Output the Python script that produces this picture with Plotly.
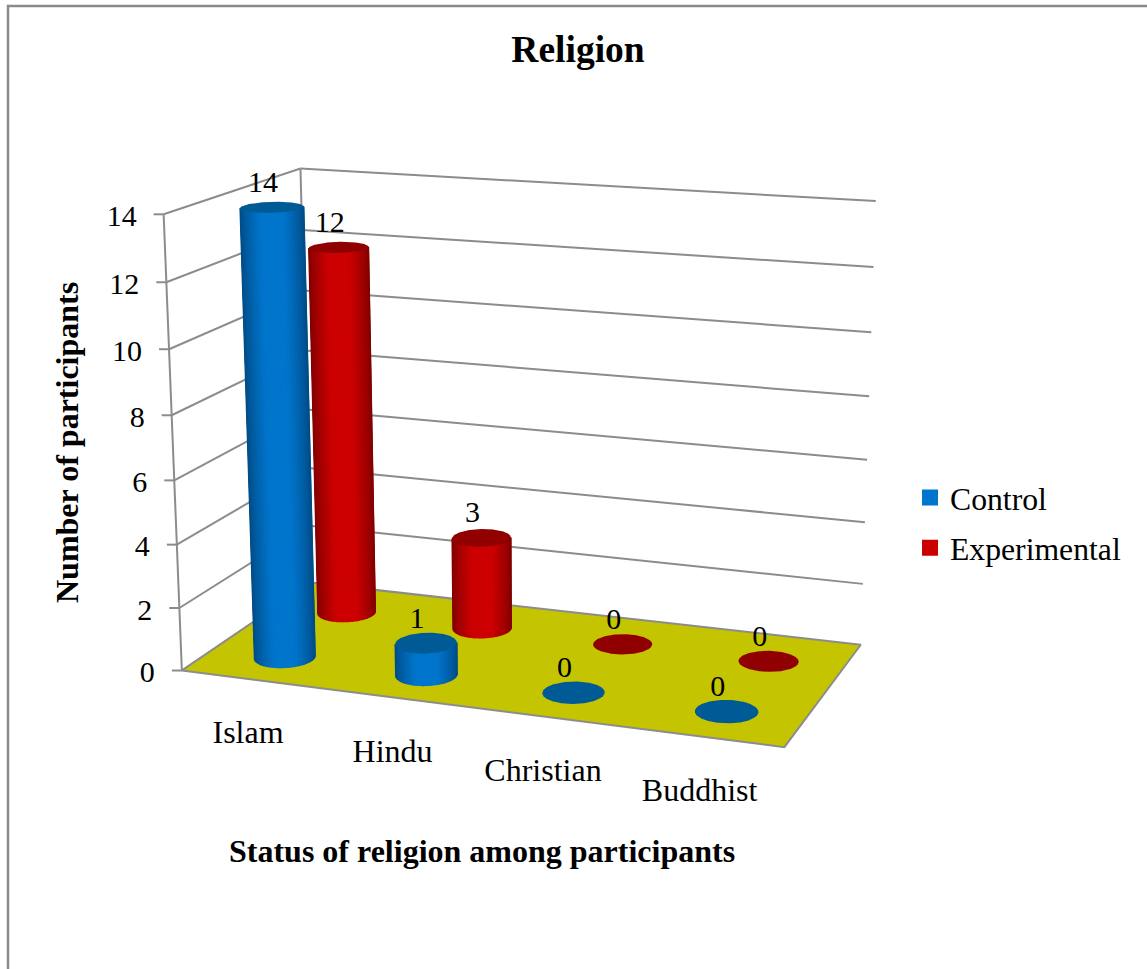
import numpy as np
import plotly.graph_objects as go

# Chart content
categories = ["Islam", "Hindu", "Christian", "Buddhist"]
control = [14, 1, 0, 0]
experimental = [12, 3, 0, 0]
value_ticks = [0, 2, 4, 6, 8, 10, 12, 14]

FONT = "Liberation Serif"
W, H = 1147, 969
YMAX = 14
GRID = "#8c8c8c"
FLOOR = "#c4c400"
STYLE = {
    "Control": dict(bright=(0, 117, 204), dark=(0, 76, 134), cap="#005a96", depth=0.235),
    "Experimental": dict(bright=(204, 0, 0), dark=(130, 0, 0), cap="#900000", depth=0.735),
}
RX, RY = 0.195, 0.105
SLOT = 0.51

# Pinhole camera of the 3-D box, solved from where its corners fall on the page.
# World coordinates: (category position 0..4, depth 0..1, value 0..14).
world = [(0, 0, 0), (4, 0, 0), (4, 1, 0), (0, 1, 0), (0, 0, 14), (0, 1, 14), (4, 1, 14)]
page = [(180, 670), (785, 747), (860, 645), (313, 583), (165, 215), (299, 168), (876, 201)]
rows = []
for (a, b, c), (u, v) in zip(world, page):
    rows.append([a, b, c, 1, 0, 0, 0, 0, -u * a, -u * b, -u * c, -u])
    rows.append([0, 0, 0, 0, a, b, c, 1, -v * a, -v * b, -v * c, -v])
CAM = np.linalg.svd(np.array(rows, float))[2][-1].reshape(3, 4)


def project(x, y, z):
    x, y, z = np.broadcast_arrays(np.asarray(x, float), np.asarray(y, float), np.asarray(z, float))
    q = CAM @ np.vstack([x.ravel(), y.ravel(), z.ravel(), np.ones(x.size)])
    return q[0] / q[2], q[1] / q[2]


fig = go.Figure()


def polygon(px, py, color, seam=0.0):
    fig.add_trace(go.Scatter(
        x=list(px), y=list(py), mode="lines", fill="toself", fillcolor=color,
        line=dict(color=color, width=seam), showlegend=False, hoverinfo="skip",
    ))


def segments(pairs, width=2):
    xs, ys = [], []
    for (a, b) in pairs:
        px, py = project([a[0], b[0]], [a[1], b[1]], [a[2], b[2]])
        xs += [px[0], px[1], None]
        ys += [py[0], py[1], None]
    fig.add_trace(go.Scatter(x=xs, y=ys, mode="lines", line=dict(color=GRID, width=width),
                             showlegend=False, hoverinfo="skip"))


def mix(a, b, k):
    return "rgb(%d,%d,%d)" % tuple(round(p + (q - p) * k) for p, q in zip(a, b))


def cylinder(xc, depth, value, st):
    th = np.linspace(0, 2 * np.pi, 361)
    bx, by = project(xc + RX * np.cos(th), depth + RY * np.sin(th), 0)
    if value > 0:
        tx, ty = project(xc + RX * np.cos(th), depth + RY * np.sin(th), value)
        # The visible side runs between the screen tangents of the base ellipse
        start, stop = th[np.argmin(bx)], th[np.argmax(bx)]
        if stop < start:
            stop += 2 * np.pi
        front = np.linspace(start, stop, 29)
        sx, sy = project(xc + RX * np.cos(front), depth + RY * np.sin(front), 0)
        ux, uy = project(xc + RX * np.cos(front), depth + RY * np.sin(front), value)
        polygon(np.r_[sx, ux[::-1]], np.r_[sy, uy[::-1]], mix(st["dark"], st["dark"], 0))
        centre, half = 0.5 * (sx[0] + sx[-1]), 0.5 * (sx[-1] - sx[0])
        for i in range(len(front) - 1):
            offset = abs(0.5 * (sx[i] + sx[i + 1]) - centre) / half
            k = min(1.0, (1 - offset) / 0.65) ** 0.8
            polygon([sx[i], sx[i + 1], ux[i + 1], ux[i]], [sy[i], sy[i + 1], uy[i + 1], uy[i]],
                    mix(st["dark"], st["bright"], k), seam=1.5)
        polygon(tx, ty, st["cap"])
        return tx.mean(), ty.mean()
    polygon(bx, by, st["cap"])
    return bx.mean(), by.mean()


# Walls: gridlines across the back and left side, ticks on the front edge
tick_len = 10
back = [((0, 1, v), (4, 1, v)) for v in value_ticks if v > 0]
side = [((0, 0, v), (0, 1, v)) for v in value_ticks]
segments(back + side + [((0, 0, 0), (0, 0, YMAX)), ((0, 1, 0), (0, 1, YMAX))])
tx0, ty0 = project(np.zeros(len(value_ticks)), np.zeros(len(value_ticks)), value_ticks)
xs, ys = [], []
for a, b in zip(tx0, ty0):
    xs += [a - tick_len, a, None]
    ys += [b, b, None]
fig.add_trace(go.Scatter(x=xs, y=ys, mode="lines", line=dict(color=GRID, width=2),
                         showlegend=False, hoverinfo="skip"))

# Floor
fx, fy = project([0, 4, 4, 0, 0], [0, 0, 1, 1, 0], [0, 0, 0, 0, 0])
fig.add_trace(go.Scatter(x=fx, y=fy, mode="lines", fill="toself", fillcolor=FLOOR,
                         line=dict(color=GRID, width=2), showlegend=False, hoverinfo="skip"))

# Cylinders, far row first, each row painted left to right
label_x, label_y, label_t = [], [], []
for name, vals in (("Experimental", experimental), ("Control", control)):
    for i, v in enumerate(vals):
        cx, cy = cylinder(i + SLOT, STYLE[name]["depth"], v, STYLE[name])
        label_x.append(cx - 9)
        label_y.append(cy - 23)
        label_t.append(str(v))

fig.add_trace(go.Scatter(x=label_x, y=label_y, text=label_t, mode="text", textposition="middle center",
                         textfont=dict(family=FONT, size=30, color="black"),
                         showlegend=False, hoverinfo="skip"))

# Value axis labels
fig.add_trace(go.Scatter(x=tx0 - tick_len - 17, y=ty0 + 4, text=[str(v) for v in value_ticks], mode="text",
                         textposition="middle left", textfont=dict(family=FONT, size=30, color="black"),
                         showlegend=False, hoverinfo="skip"))

# Category labels, dropped below the front edge
cx0, cy0 = project(np.arange(4) + 0.5, np.zeros(4), np.zeros(4))
fig.add_trace(go.Scatter(x=cx0 - 4, y=cy0 + 56, text=categories, mode="text", textposition="middle center",
                         textfont=dict(family=FONT, size=32, color="black"),
                         showlegend=False, hoverinfo="skip"))

# Legend entries
for idx, name in enumerate(("Control", "Experimental")):
    fig.add_trace(go.Scatter(x=[None], y=[None], mode="markers", name=name, legendgroup=name,
                             marker=dict(symbol="square", size=16, color=mix(STYLE[name]["bright"], STYLE[name]["bright"], 0))))

fig.update_layout(
    width=W, height=H, autosize=False,
    margin=dict(l=0, r=0, t=0, b=0),
    paper_bgcolor="white", plot_bgcolor="white",
    xaxis=dict(range=[0, W], visible=False, fixedrange=True),
    yaxis=dict(range=[H, 0], visible=False, fixedrange=True),
    title=dict(text="<b>Religion</b>", x=578 / W, xanchor="center", y=1 - 49 / H, yanchor="middle",
               font=dict(family=FONT, size=37.5, color="black")),
    legend=dict(x=910 / W, xanchor="left", y=1 - 523 / H, yanchor="middle", bgcolor="rgba(0,0,0,0)",
                font=dict(family=FONT, size=31.7, color="black"), tracegroupgap=6),
    annotations=[
        dict(text="<b>Number of participants</b>", x=67, y=443, xref="x", yref="y", textangle=-90,
             showarrow=False, font=dict(family=FONT, size=32, color="black")),
        dict(text="<b>Status of religion among participants</b>", x=482, y=851, xref="x", yref="y",
             showarrow=False, font=dict(family=FONT, size=32, color="black")),
    ],
    shapes=[dict(type="rect", xref="x", yref="y", x0=8, y0=6, x1=W + 10, y1=H + 10,
                 line=dict(color="#8a8a8a", width=2.5), layer="below")],
)

fig.write_html("out.html")
